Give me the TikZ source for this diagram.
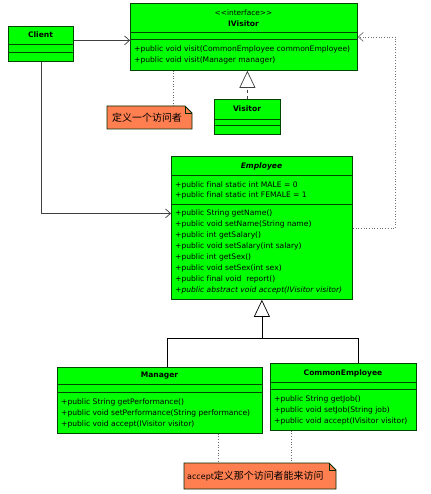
\documentclass[tikz,border=0pt]{standalone}
\usepackage{fontspec}
\setmainfont{DejaVu Sans}[Ligatures=NoCommon]
\newfontfamily\cjk{Noto Sans CJK SC}
\usetikzlibrary{arrows.meta,calc}
\definecolor{umlgreen}{RGB}{0,255,0}
\definecolor{umlborder}{RGB}{0,70,0}
\definecolor{notefill}{RGB}{255,127,80}
\definecolor{notelinecol}{RGB}{110,110,110}
\tikzset{
  classbox/.style={draw=umlborder, fill=umlgreen, line width=0.8bp, inner sep=0pt, anchor=north west},
  sep/.style={draw=umlborder, line width=0.8bp},
  cname/.style={font=\fontsize{7.6}{9}\selectfont\bfseries, inner sep=0pt},
  member/.style={font=\fontsize{7.6}{9}\selectfont, inner sep=0pt, anchor=west},
  assoc/.style={draw=black!75, line width=0.7bp, -{Straight Barb[length=5bp,width=9bp]}},
  dep/.style={draw=black!55, line width=0.7bp, dotted, -{Straight Barb[length=5bp,width=9bp]}},
  realiz/.style={draw=black!75, line width=0.7bp, dashed, -{Triangle[open,length=17bp,width=16bp,fill=white]}},
  genl/.style={draw=black, line width=0.7bp},
  genarrow/.style={draw=black, line width=0.7bp, -{Triangle[open,length=17bp,width=16bp,fill=white]}},
  notelink/.style={draw=notelinecol, line width=0.7bp, dotted},
  notetext/.style={font=\fontsize{10}{12}\selectfont, inner sep=0pt, anchor=west},
}
\newcommand{\umlnote}[5]{% name, x1,y1,x2,y2
  \fill[notefill] (#2,#3) -- (#4-7,#3) -- (#4,#3+7) -- (#4,#5) -- (#2,#5) -- cycle;
  \draw[umlborder!60!black, line width=0.8bp] (#2,#3) -- (#4-7,#3) -- (#4,#3+7) -- (#4,#5) -- (#2,#5) -- cycle;
  \draw[umlborder!60!black, line width=0.6bp] (#4-7,#3) -- (#4-7,#3+7) -- (#4,#3+7);
  \coordinate (#1) at ($(#2,#3)!0.5!(#4,#5)$);
  \coordinate (#1-ne) at (#4,#3);
  \coordinate (#1-nw) at (#2,#3);
}
\begin{document}
\begin{tikzpicture}[x=1bp,y=-1bp]
\useasboundingbox[fill=white] (0,0) rectangle (430,494);

% Client
\node[classbox, minimum width=65bp, minimum height=35bp] (client) at (8,26) {};
\node[cname] (clientname) at (40.5,35) {Client};
\draw[sep] (8,44) -- (73,44);
\draw[sep] (8,52) -- (73,52);

% IVisitor
\node[classbox, minimum width=227bp, minimum height=67bp] (ivisitor) at (130,3) {};
\node[inner sep=0pt, font=\fontsize{7.4}{9}\selectfont] (ivst) at (243.5,12.5) {{<}{<}interface{>}{>}};
\node[cname] (ivname) at (243.5,24) {IVisitor};
\draw[sep] (130,32) -- (357,32);
\draw[sep] (130,39) -- (357,39);
\node[member] (iv1) at (134,49) {+public void visit(CommonEmployee commonEmployee)};
\node[member] (iv2) at (134,60) {+public void visit(Manager manager)};

% Visitor
\node[classbox, minimum width=66bp, minimum height=35bp] (visitor) at (214,99) {};
\node[cname] (visname) at (247,109) {Visitor};
\draw[sep] (214,119) -- (280,119);
\draw[sep] (214,125) -- (280,125);

% Employee
\node[classbox, minimum width=181bp, minimum height=143bp] (employee) at (171,156) {};
\node[cname, font=\fontsize{7.6}{9}\selectfont\bfseries\itshape] (empname) at (261.5,166) {Employee};
\draw[sep] (171,175) -- (352,175);
\draw[sep] (171,204) -- (352,204);
\node[member] (ea1) at (175,185) {+public final static int MALE = 0};
\node[member] (ea2) at (175,195.5) {+public final static int FEMALE = 1};
\node[member] (em1) at (175,213) {+public String getName()};
\node[member] (em2) at (175,224) {+public void setName(String name)};
\node[member] (em3) at (175,235) {+public int getSalary()};
\node[member] (em4) at (175,246) {+public void setSalary(int salary)};
\node[member] (em5) at (175,257) {+public int getSex()};
\node[member] (em6) at (175,268) {+public void setSex(int sex)};
\node[member] (em7) at (175,279) {+public final void~~report()};
\node[member, font=\fontsize{7.6}{9}\selectfont\itshape] (em8) at (175,290) {+public abstract void accept(IVisitor visitor)};

% Manager
\node[classbox, minimum width=205bp, minimum height=66bp] (manager) at (57,367) {};
\node[cname] (mgrname) at (159.5,376) {Manager};
\draw[sep] (57,384) -- (262,384);
\draw[sep] (57,392) -- (262,392);
\node[member] (mm1) at (61,402) {+public String getPerformance()};
\node[member] (mm2) at (61,413) {+public void setPerformance(String performance)};
\node[member] (mm3) at (61,424) {+public void accept(IVisitor visitor)};

% CommonEmployee
\node[classbox, minimum width=146bp, minimum height=67bp] (cemp) at (270,363) {};
\node[cname] (cename) at (343,373) {CommonEmployee};
\draw[sep] (270,382) -- (416,382);
\draw[sep] (270,389) -- (416,389);
\node[member] (cm1) at (274,399) {+public String getJob()};
\node[member] (cm2) at (274,410) {+public void setJob(String job)};
\node[member] (cm3) at (274,421) {+public void accept(IVisitor visitor)};

% Notes
\umlnote{noteone}{107}{106}{192}{129}
\node[notetext] (noteonetext) at (112,118) {\cjk 定义一个访问者};
\umlnote{notetwo}{184}{463}{336}{489}
\node[notetext] (notetwotext) at (187,476) {\fontsize{8}{10}\selectfont accept\cjk\fontsize{10}{12}\selectfont 定义那个访问者能来访问};

% Connectors
\draw[assoc] ([yshift=3.5bp]client.east) -- ([yshift=3.5bp]client.east -| ivisitor.west);
\draw[assoc] (client.south) |- ([yshift=14.5bp]employee.west);
\draw[dep] (employee.east) -- ++(43,0) |- (ivisitor.east);
\draw[realiz] (visitor.north) -- (visitor.north |- ivisitor.south);
\draw[notelink] ([xshift=-19bp]noteone-ne) -- ([xshift=-19bp]noteone-ne |- ivisitor.south);

\coordinate (gj) at ([yshift=-39bp]employee.south);
\draw[genarrow] (gj) -- (employee.south);
\draw[genl] ([xshift=7.5bp]manager.north) |- (gj) -| ([xshift=15bp]cemp.north);

\draw[notelink] ([xshift=-44bp]manager.south east) -- ([xshift=-44bp]manager.south east |- notetwo-nw);
\draw[notelink] ([xshift=21bp]cemp.south west) -- ([xshift=21bp]cemp.south west |- notetwo-nw);
\end{tikzpicture}
\end{document}
